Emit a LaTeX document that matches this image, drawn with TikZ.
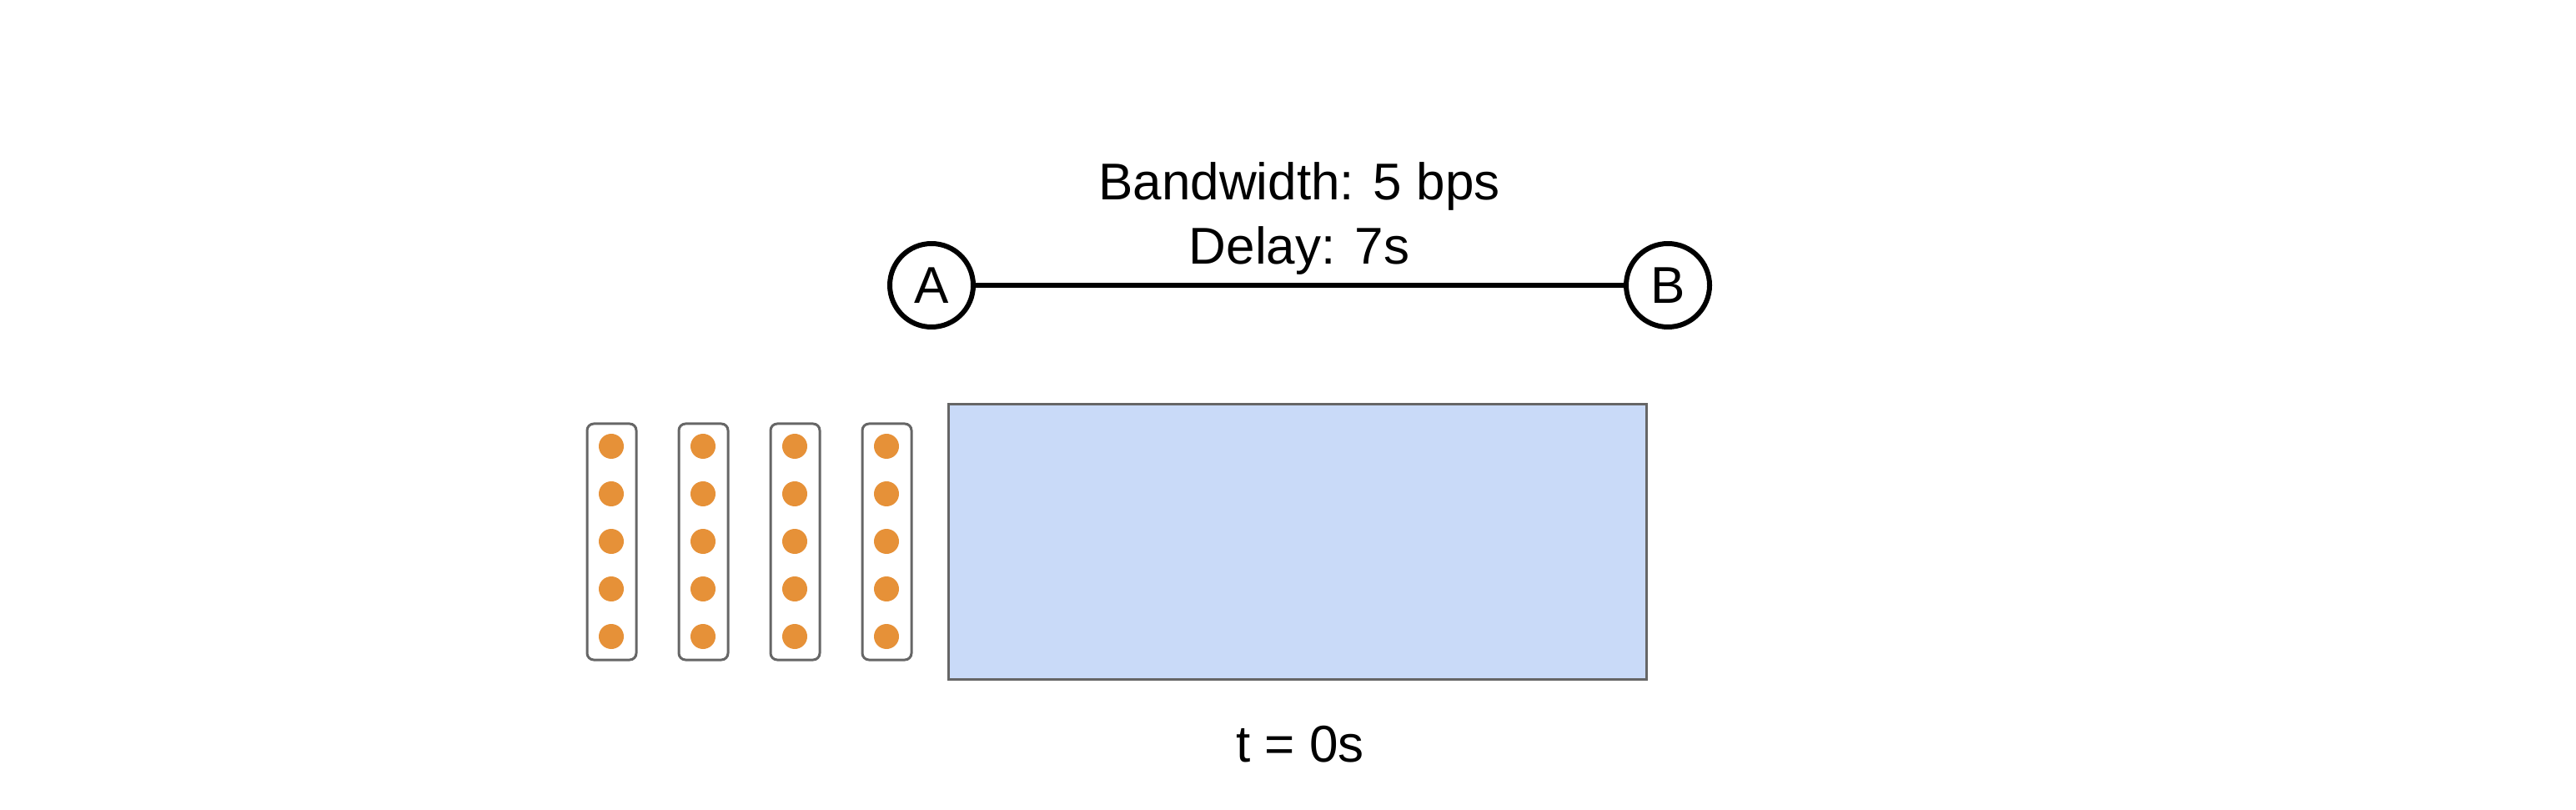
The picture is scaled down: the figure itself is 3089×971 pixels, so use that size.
\documentclass[tikz,border=0pt]{standalone}
\usepackage{fontspec}
\setmainfont{Liberation Sans}

\definecolor{pktorange}{HTML}{E69138}
\definecolor{pipeblue}{HTML}{C9DAF8}
\definecolor{framegray}{HTML}{666666}

\tikzset{every picture/.style={line width=0.75pt}}
\tikzset{
	host/.style={draw, circle, line width=1.5pt, minimum size=25pt, inner sep=0pt, font=\fontsize{15.5}{19}\selectfont},
	lbl/.style={anchor=base, inner sep=0pt, font=\fontsize{15.5}{19}\selectfont},
	pktbox/.style={draw=framegray, line width=0.75pt, rounded corners=2pt},
	pkt/.style={fill=pktorange},
}

\begin{document}
\begin{tikzpicture}[x=0.25pt,y=0.25pt,yscale=-1,xscale=1]
	\useasboundingbox (0,0) rectangle (3089,971);

	% Hosts
	\node[host] (A) at (1117,342) {A};
	\node[host] (B) at (2000,342) {B};
	%Straight Lines
	\draw[line width=1.4pt] (A) -- (B);

	% Text Node
	\node[lbl] (bw) at (1558,240) {Bandwidth: 5 bps};
	% Text Node
	\node[lbl] (delay) at (1558,317) {Delay: 7s};

	% Pipe
	\draw[draw=framegray, fill=pipeblue] (1137,485) rectangle (1974,814);

	% Packet columns
	\draw[pktbox] (704,508) rectangle (763,791);
	\draw[pktbox] (814,508) rectangle (873,791);
	\draw[pktbox] (924,508) rectangle (983,791);
	\draw[pktbox] (1034,508) rectangle (1093,791);

	% Packets, column 1
	\fill[pkt] (733,535) circle (3.75pt);
	\fill[pkt] (733,592) circle (3.75pt);
	\fill[pkt] (733,649) circle (3.75pt);
	\fill[pkt] (733,706) circle (3.75pt);
	\fill[pkt] (733,763) circle (3.75pt);
	% Packets, column 2
	\fill[pkt] (843,535) circle (3.75pt);
	\fill[pkt] (843,592) circle (3.75pt);
	\fill[pkt] (843,649) circle (3.75pt);
	\fill[pkt] (843,706) circle (3.75pt);
	\fill[pkt] (843,763) circle (3.75pt);
	% Packets, column 3
	\fill[pkt] (953,535) circle (3.75pt);
	\fill[pkt] (953,592) circle (3.75pt);
	\fill[pkt] (953,649) circle (3.75pt);
	\fill[pkt] (953,706) circle (3.75pt);
	\fill[pkt] (953,763) circle (3.75pt);
	% Packets, column 4
	\fill[pkt] (1063,535) circle (3.75pt);
	\fill[pkt] (1063,592) circle (3.75pt);
	\fill[pkt] (1063,649) circle (3.75pt);
	\fill[pkt] (1063,706) circle (3.75pt);
	\fill[pkt] (1063,763) circle (3.75pt);

	% Text Node
	\node[lbl] (time) at (1559,913) {t = 0s};

\end{tikzpicture}
\end{document}
